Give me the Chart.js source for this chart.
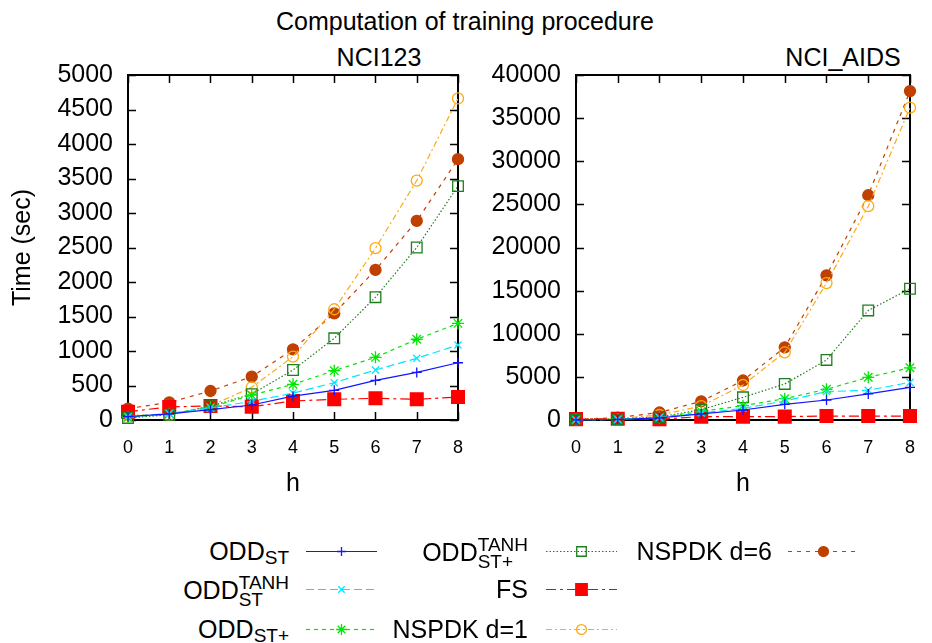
<!DOCTYPE html>
<html>
<head>
<meta charset="utf-8">
<script src="https://cdn.jsdelivr.net/npm/chart.js"></script>
<style>
  body { margin: 0; background: #fff; font-family: "Liberation Sans", Arial, sans-serif; color: #000; }
  #wrap { position: relative; width: 932px; height: 643px; overflow: hidden; }
  canvas { position: absolute; }
  .ttl { position: absolute; font-size: 25px; line-height: 30px; white-space: nowrap; transform: translateX(-50%); }
  .lg { position: absolute; left: 0; text-align: right; font-size: 25px; line-height: 30px; white-space: nowrap; }
  .sb { font-size: 19px; vertical-align: -4px; }
  .st { display: inline-block; vertical-align: -7px; line-height: 17px; font-size: 19px; text-align: left; }
</style>
</head>
<body>
<div id="wrap">
  <div class="ttl" style="left:465px; top:6px;">Computation of training procedure</div>
  <div class="ttl" style="left:379px; top:42px;">NCI123</div>
  <div class="ttl" style="left:843px; top:42px;">NCI_AIDS</div>
  <canvas id="chart123" width="480" height="500" style="left:0; top:0;"></canvas>
  <canvas id="chartAids" width="462" height="500" style="left:470px; top:0;"></canvas>
</div>
<script>
'use strict';

// h values on the x axis
const hLabels = ['0', '1', '2', '3', '4', '5', '6', '7', '8'];

// NCI123 (seconds)
const nci123OddSt = [48, 90, 150, 217, 345, 430, 575, 690, 830];
const nci123OddStTanh = [50, 95, 175, 270, 390, 541, 725, 894, 1087];
const nci123OddStPlus = [40, 90, 185, 360, 517, 715, 908, 1170, 1400];
const nci123OddStPlusTanh = [30, 75, 200, 375, 725, 1184, 1780, 2500, 3390];
const nci123Fs = [120, 190, 203, 193, 275, 300, 314, 300, 333];
const nci123Nspdk1 = [70, 72, 205, 474, 918, 1605, 2490, 3470, 4660];
const nci123Nspdk6 = [165, 256, 420, 628, 1024, 1545, 2175, 2885, 3780];

// NCI_AIDS (seconds)
const aidsOddSt = [20, 60, 250, 700, 1160, 1820, 2320, 3020, 3790];
const aidsOddStTanh = [20, 70, 280, 800, 1350, 2200, 3290, 3450, 4370];
const aidsOddStPlus = [20, 80, 300, 1000, 1660, 2470, 3560, 4950, 6050];
const aidsOddStPlusTanh = [30, 100, 350, 1200, 2630, 4180, 6960, 12700, 15220];
const aidsFs = [100, 150, 90, 390, 390, 390, 460, 460, 460];
const aidsNspdk1 = [30, 150, 580, 1600, 4060, 7850, 15880, 24790, 36210];
const aidsNspdk6 = [80, 270, 870, 2170, 4580, 8430, 16770, 26060, 38140];

// y tick ranges
const yMax123 = 5000, yStep123 = 500;
const yMaxAids = 40000, yStepAids = 5000;

const seriesLabels = ['ODD_ST', 'ODD_ST^TANH', 'ODD_ST+', 'ODD_ST+^TANH', 'FS', 'NSPDK d=1', 'NSPDK d=6'];
const legendHtml = [
  'ODD<span class="sb">ST</span>',
  'ODD<span class="st">TANH<br>ST</span>',
  'ODD<span class="sb">ST+</span>',
  'ODD<span class="st">TANH<br>ST+</span>',
  'FS',
  'NSPDK d=1',
  'NSPDK d=6'
];

const styles = [
  { color: 'rgb(20,20,255)', dash: [], point: 'cross', radius: 5, fill: false },
  { color: 'rgb(0,230,255)', dash: [8, 4], point: 'crossRot', radius: 5, fill: false },
  { color: 'rgb(0,230,0)', dash: [4, 4], point: 'star', radius: 6, fill: false },
  { color: 'rgb(30,125,30)', dash: [1.5, 2], point: 'rect', radius: 7.5, fill: false },
  { color: 'rgb(255,0,0)', dash: [10, 4, 3, 4], point: 'rect', radius: 9, fill: true },
  { color: 'rgb(255,170,20)', dash: [6, 3, 2, 3], point: 'circle', radius: 5.5, fill: false },
  { color: 'rgb(192,64,0)', dash: [4, 5], point: 'circle', radius: 5.5, fill: true }
];

Chart.defaults.font.family = '"Liberation Sans", Arial, sans-serif';
Chart.defaults.color = '#000';

function makeDatasets(series) {
    return series.map((values, i) => {
        const s = styles[i];
        return {
            label: seriesLabels[i],
            data: values,
            borderColor: s.color,
            borderWidth: 1.2,
            borderDash: s.dash,
            pointStyle: s.point,
            pointRadius: s.radius,
            pointBorderWidth: 1.3,
            pointBorderColor: s.color,
            pointBackgroundColor: s.fill ? s.color : 'rgba(0,0,0,0)',
            tension: 0,
            clip: false
        };
    });
}

// gnuplot-like frame with inward ticks
const framePlugin = {
    id: 'frame',
    beforeDatasetsDraw(chart) {
        const { ctx, chartArea: a, scales: { x, y } } = chart;
        const len = 8;
        ctx.save();
        ctx.strokeStyle = '#000';
        ctx.lineWidth = 1.5;
        ctx.beginPath();
        y.ticks.forEach(t => {
            const py = Math.round(y.getPixelForValue(t.value)) + 0.5;
            ctx.moveTo(a.left, py); ctx.lineTo(a.left + len, py);
            ctx.moveTo(a.right, py); ctx.lineTo(a.right - len, py);
        });
        x.ticks.forEach((t, i) => {
            const px = Math.round(x.getPixelForTick(i)) + 0.5;
            ctx.moveTo(px, a.bottom); ctx.lineTo(px, a.bottom - len);
            ctx.moveTo(px, a.top); ctx.lineTo(px, a.top + len);
        });
        ctx.stroke();
        ctx.lineWidth = 2;
        ctx.strokeRect(a.left, a.top, a.right - a.left, a.bottom - a.top);
        ctx.restore();
    }
};

function renderChart(canvasEl, series, yMax, yStep, yWidth, padRight, yTitle) {
    return new Chart(canvasEl, {
        type: 'line',
        data: { labels: hLabels, datasets: makeDatasets(series) },
        options: {
            responsive: false,
            animation: false,
            layout: { padding: { top: 75, right: padRight, bottom: 0, left: 0 } },
            plugins: { legend: { display: false }, tooltip: { enabled: false } },
            scales: {
                x: {
                    type: 'category',
                    offset: false,
                    grid: { display: false, drawTicks: false },
                    border: { display: false },
                    ticks: { font: { size: 18 }, padding: 17, maxRotation: 0 },
                    title: { display: true, text: 'h', font: { size: 25 }, padding: { top: 0, bottom: 1 } },
                    afterFit: s => { s.height = 80; }
                },
                y: {
                    min: 0,
                    max: yMax,
                    grid: { display: false, drawTicks: false },
                    border: { display: false },
                    ticks: { stepSize: yStep, font: { size: 25 }, padding: 15, callback: v => String(v) },
                    title: { display: !!yTitle, text: yTitle || '', font: { size: 25 }, padding: { top: 8, bottom: 0 } },
                    afterFit: s => { s.width = yWidth; }
                }
            }
        },
        plugins: [framePlugin]
    });
}

renderChart(document.getElementById('chart123'),
    [nci123OddSt, nci123OddStTanh, nci123OddStPlus, nci123OddStPlusTanh, nci123Fs, nci123Nspdk1, nci123Nspdk6],
    yMax123, yStep123, 128, 7, 'Time (sec)');

renderChart(document.getElementById('chartAids'),
    [aidsOddSt, aidsOddStTanh, aidsOddStPlus, aidsOddStPlusTanh, aidsFs, aidsNspdk1, aidsNspdk6],
    yMaxAids, yStepAids, 106, 10, null);

// legend, gnuplot style: text right-aligned, then a line sample with its marker
const legendTextRight = [289, 528, 772];
const legendSampleLeft = [304, 544, 786];
const legendRowY = [551, 589, 629];

const wrapEl = document.getElementById('wrap');
legendHtml.forEach((html, i) => {
    const col = Math.floor(i / 3), row = i % 3;
    const s = styles[i];

    const textEl = document.createElement('div');
    textEl.className = 'lg';
    textEl.style.width = legendTextRight[col] + 'px';
    textEl.style.top = (legendRowY[row] - 15) + 'px';
    textEl.innerHTML = html;
    wrapEl.appendChild(textEl);

    const c = document.createElement('canvas');
    c.width = 76; c.height = 24;
    c.style.left = legendSampleLeft[col] + 'px';
    c.style.top = (legendRowY[row] - 12) + 'px';
    wrapEl.appendChild(c);
    const ctx = c.getContext('2d');
    ctx.strokeStyle = s.color;
    ctx.lineWidth = 1.2;
    ctx.setLineDash(s.dash);
    ctx.beginPath();
    ctx.moveTo(2, 12.5); ctx.lineTo(73, 12.5);
    ctx.stroke();
    ctx.setLineDash([]);
    ctx.lineWidth = 1.3;
    ctx.fillStyle = s.fill ? s.color : 'rgba(0,0,0,0)';
    Chart.helpers.drawPoint(ctx, { pointStyle: s.point, rotation: 0, radius: s.radius * 0.9, borderWidth: 1.3 }, 37.5, 12.5);
});
</script>
</body>
</html>
